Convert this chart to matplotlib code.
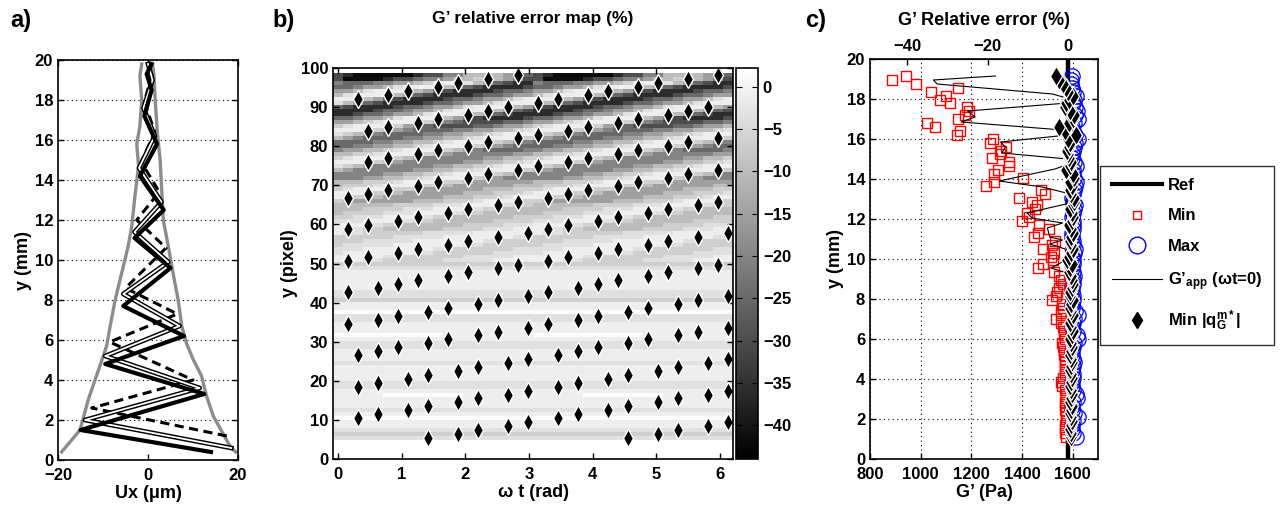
import numpy as np
import matplotlib
matplotlib.use("Agg")
import matplotlib.pyplot as plt
from matplotlib.lines import Line2D

plt.rcParams['font.family'] = ['Liberation Sans', 'DejaVu Sans']
plt.rcParams['font.weight'] = 'bold'
plt.rcParams['axes.labelweight'] = 'bold'
plt.rcParams['font.size'] = 12
plt.rcParams['mathtext.fontset'] = 'custom'
plt.rcParams['mathtext.rm'] = 'Liberation Sans:bold'
plt.rcParams['mathtext.bf'] = 'Liberation Sans:bold'
plt.rcParams['mathtext.it'] = 'Liberation Sans:bold'

# ---------------- panel a : displacement profiles ----------------
ENV_L_X = [-19.2, -15.1, -13.3, -10.7, -9.2, -8.4, -7.3, -5.9, -4.4, -3.6, -2.9, -2.1, -2.5, -1.8, -1.4, -1.8, -1.4]
ENV_L_Y = [0.4, 1.5, 3.0, 4.7, 5.7, 6.7, 8.0, 9.3, 10.7, 11.7, 13.2, 14.7, 15.8, 16.7, 18.0, 19.2, 19.8]
ENV_R_X = [19.5, 18.2, 14.5, 13.0, 11.9, 10.1, 8.6, 7.5, 6.7, 5.6, 4.5, 3.4, 3.0, 2.7, 2.1, 1.6, 1.3, 1.0]
ENV_R_Y = [0.4, 0.7, 2.2, 3.2, 4.2, 5.0, 5.8, 6.7, 8.0, 9.3, 10.7, 12.0, 13.7, 15.0, 16.3, 18.0, 19.3, 19.8]

THICK_X = [14.0, -15.0, 12.5, -9.5, 8.0, -5.5, 5.0, -3.0, 3.5, -1.8, 2.0, -0.8, 0.8, -0.3, 0.8]
THICK_Y = [0.4, 1.5, 3.3, 4.8, 6.2, 7.7, 9.6, 11.1, 12.5, 14.2, 15.8, 17.2, 18.5, 19.3, 19.8]
OUTL_X = [18.5, -14.0, 11.5, -9.5, 7.0, -5.5, 4.5, -3.0, 3.0, -2.0, 1.5, -1.0, 1.0, 0.0]
OUTL_Y = [0.6, 2.0, 3.6, 5.2, 6.7, 8.3, 9.9, 11.4, 12.9, 14.6, 16.2, 17.6, 19.0, 19.8]
DASH_X = [17.5, -12.5, 10.0, -8.5, 6.5, -5.0, 4.0, -2.5, 2.5, -1.5, 1.5, -0.8, 1.0]
DASH_Y = [1.2, 2.6, 4.0, 5.9, 7.3, 8.6, 10.6, 12.0, 13.4, 14.9, 16.4, 17.9, 19.4]

# ---------------- panel b : error map (rows y=5..97, bottom first) ----------------
# one char per cell, looked up in LEVELS (percent)
LEVELS = {'w': 1.5, '0': -1.0, '1': -3.5, '2': -6.5, '3': -10.0, '4': -15.0,
          '5': -20.0, '6': -25.0, '7': -30.0, '8': -36.0, '9': -42.0}
ERR_ROWS = [
    "11111111111111111111" "11111111111111111111",
    "22222222222222222222" "22222222222222222222",
    "11111111111111111111" "11111111111111111111",
    "00000000000000000000" "00000000000000000000",
    "00000000000000000000" "00000000000000000000",
    "wwwwwwwwwwwwwwwwwwww" "wwwwwwwwwwwwwwwwwwww",
    "00000000000000000000" "00000000000000000000",
    "11111111111111111111" "11111111111111111111",
    "00000000000000000000" "00000000000000000000",
    "00000000000000000000" "00000000000000000000",
    "00000000000000000000" "00000000000000000000",
    "00000wwwwwwww0000000" "00000wwwwwwww0000000",
    "00000000000000000000" "00000000000000000000",
    "11111111111111111111" "11111111111111111111",
    "11111111111111111111" "11111111111111111111",
    "00000000000000000000" "00000000000000000000",
    "00000000000000000000" "00000000000000000000",
    "00000000000000000000" "00000000000000000000",
    "00000000000000000000" "00000000000000000000",
    "11111111111111111111" "11111111111111111111",
    "00000000000000000000" "00000000000000000000",
    "00000000000000000000" "00000000000000000000",
    "00000000000000000000" "00000000000000000000",
    "11111111111111111111" "11111111111111111111",
    "11111111111111111111" "11111111111111111111",
    "00000000000000000000" "00000000000000000000",
    "wwwwwwwwwww000000000" "wwwwwwwwwww000000000",
    "00000000000000000000" "00000000000000000000",
    "00000000000000000000" "00000000000000000000",
    "00000000000000000000" "00000000000000000000",
    "11111111111111111111" "11111111111111111111",
    "11111111111111111111" "11111111111111111111",
    "wwwwwwwwwwwwwwwwwwww" "wwwwwwwwwwwwwwwwwwww",
    "00000000000000000000" "00000000000000000000",
    "00000000000000000000" "00000000000000000000",
    "22222222222222222222" "22222222222222222222",
    "11111111111111111111" "11111111111111111111",
    "11111111111111111111" "11111111111111111111",
    "00000000000000000000" "00000000000000000000",
    "00000000000000000000" "00000000000000000000",
    "00000000000000000000" "00000000000000000000",
    "00000000000000000000" "00000000000000000000",
    "00000000000000000000" "00000000000000000000",
    "11111111111111111111" "11111111111111111111",
    "22222222222222222222" "22222222222222222222",
    "00011222222111110000" "00011222222111110000",
    "00000112222221111100" "00000112222221111100",
    "10000000112222221111" "10000000112222221111",
    "11100000001122222211" "11100000001122222211",
    "21111100000001122222" "21111100000001122222",
    "22211111000000011222" "22211111000000011222",
    "22222211111000000011" "22222211111000000011",
    "01122222211111000000" "01122222211111000000",
    "01122333333222211100" "01122333333222211100",
    "00011223333332222111" "00011223333332222111",
    "11100011223333332222" "11100011223333332222",
    "22111000112233333322" "22111000112233333322",
    "32222111000112233333" "32222111000112233333",
    "33322221110001122333" "33322221110001122333",
    "33333322221110001122" "33333322221110001122",
    "23444444333222100012" "23444444333222100012",
    "01223444444333222100" "01223444444333222100",
    "00012234444443332221" "00012234444443332221",
    "21000122344444433322" "21000122344444433322",
    "32221000122344444433" "32221000122344444433",
    "33322210001223444444" "33322210001223444444",
    "55544332210001234555" "55544332210001234555",
    "55555443322100012345" "55555443322100012345",
    "34555555443322100012" "34555555443322100012",
    "12345555554433221000" "12345555554433221000",
    "00012345555554433221" "00012345555554433221",
    "21000123455555544332" "21000123455555544332",
    "33221000123455555544" "33221000123455555544",
    "54433210001234566665" "54433210001234566665",
    "66554433210001234566" "66554433210001234566",
    "66665544332100012345" "66665544332100012345",
    "34566665544332100012" "34566665544332100012",
    "12345666655443321000" "12345666655443321000",
    "00012345666655443321" "00012345666655443321",
    "21000124567777665443" "21000124567777665443",
    "44321000124567777665" "44321000124567777665",
    "66544310001346788887" "66544310001346788887",
    "88766544310001346788" "88766544310001346788",
    "88887665443100013467" "88887665443100013467",
    "67888876654431000134" "67888876654431000134",
    "13467888876654431000" "13467888876654431000",
    "00134678888766544310" "00134678888766544310",
    "31000134678888766544" "31000134678888766544",
    "44310001346788887665" "44310001346788887665",
    "66544310001346788887" "66544310001346788887",
    "56665544320001346788" "56665544320001346788",
    "79999877655433233457" "79999877655433233457",
    "78999999877553333456" "78999999877553333456",
]
# column index (step pi/20) of the two min|q| markers in each row, bottom first
K_FIRST = [9, 12, 14, 17, 19, 2, 4, 7, 9, 12, 14, 17, 19, 2, 4, 7, 9, 12, 14, 17, 19,
           2, 4, 6, 9, 11, 14, 16, 19, 1, 4, 6, 9, 11, 14, 16, 19, 1, 4, 6, 8, 11, 13,
           16, 18, 1, 3, 6, 8, 11, 13, 16, 19, 1, 3, 6, 8, 11, 13, 16, 18, 1, 3, 5, 8,
           10, 13, 15, 18, None, 3, 5, 8, 10, 13, 15, 18, None, 3, 5, 8, 10, 13, 15, 17,
           None, 2, 5, 7, 10, 12, 15, 18]
K_SECOND = [29, 32, 34, 37, 39, 22, 24, 27, 29, 32, 34, 37, 39, 22, 24, 27, 29, 32, 34, 37, 39,
            22, 24, 26, 29, 31, 34, 36, 39, 21, 24, 26, 29, 31, 34, 36, 39, 21, 24, 26, 28, 31, 33,
            36, 38, 21, 23, 26, 28, 31, 33, 36, 39, 21, 23, 26, 28, 31, 33, 36, 38, 21, 23, 25, 28,
            30, 33, 35, 38, 20, 23, 25, 28, 30, 33, 35, 38, 20, 23, 25, 28, 30, 33, 35, 37,
            20, 22, 25, 27, 30, 32, 35, 38]
MAP_Y_EDGES = (4.9, 98.6)

# ---------------- panel c : G' profiles ----------------
G_REF = 1580
G_MIN = [1572, 1568, 1568, 1570, 1572, 1572, 1572, 1568, 1568, 1570, 1572, 1572, 1570, 1558, 1555,
         1560, 1568, 1570, 1568, 1570, 1570, 1565, 1565, 1562, 1559, 1568, 1565, 1565, 1560, 1552,
         1533, 1552, 1552, 1562, 1556, 1519, 1533, 1539, 1546, 1562, 1552, 1548, 1526, 1464, 1482,
         1522, 1513, 1526, 1482, 1520, 1530, 1447, 1462, 1506, 1467, 1401, 1427, 1418, 1451, 1460,
         1438, 1387, 1489, 1476, 1258, 1288, 1405, 1288, 1306, 1348, 1348, 1282, 1315, 1317, 1337,
         1275, 1286, 1144, 1154, 1055, 1024, 1148, 1174, 1189, 1183, 1117, 1075, 1100, 1040, 1148,
         982, 886, 943]
G_MAX = [1615, 1600, 1596, 1598, 1602, 1620, 1605, 1596, 1598, 1600, 1618, 1615, 1600, 1596, 1598,
         1602, 1600, 1597, 1602, 1605, 1600, 1596, 1598, 1602, 1605, 1620, 1618, 1602, 1597, 1600,
         1605, 1620, 1608, 1598, 1596, 1600, 1602, 1598, 1597, 1600, 1602, 1605, 1600, 1597, 1600,
         1602, 1598, 1605, 1608, 1602, 1600, 1598, 1597, 1600, 1602, 1600, 1597, 1602, 1605, 1610,
         1602, 1598, 1600, 1605, 1610, 1615, 1605, 1600, 1602, 1612, 1605, 1598, 1596, 1600, 1605,
         1610, 1622, 1610, 1602, 1598, 1605, 1622, 1610, 1618, 1608, 1600, 1605, 1615, 1602, 1597,
         1594, 1592, 1596]
G_QMIN = [1595, 1592, 1590, 1595, 1598, 1592, 1590, 1595, 1598, 1590, 1592, 1596, 1594, 1590, 1592,
          1598, 1595, 1590, 1593, 1597, 1595, 1590, 1594, 1598, 1592, 1590, 1596, 1600, 1594, 1590,
          1598, 1602, 1592, 1588, 1595, 1600, 1590, 1588, 1596, 1602, 1598,
          1592, 1585, 1590, 1596, 1578, 1585, 1595, 1600, 1592, 1588, 1595, 1600, 1592, 1585, 1596,
          1602, 1598, 1590, 1600, 1605, 1605, 1595, 1588, 1598, 1590, 1605, 1600, 1572, 1588, 1592,
          1585, 1580, 1578, 1585, 1590, 1580, 1612, 1568, 1548, 1585, 1600, 1605, 1590, 1570, 1575,
          1585, 1600, 1582, 1575, 1560, 1545, 1533]
ROW_MM = (1.1, 19.15)
APP_Y = [19.15, 18.95, 18.75, 18.25, 18.05, 17.8, 17.4, 17.1, 16.85, 16.45, 16.2, 15.85, 15.6,
         15.3, 15.0, 14.75, 14.5, 13.9, 13.6, 13.3, 13.0, 12.8, 12.3, 12.05, 11.8, 11.55, 11.1,
         10.95, 10.75, 10.5, 10.25, 10.0, 9.55, 9.3, 9.0, 8.5, 8.0, 7.5, 7.0, 6.5, 6.0, 5.0, 4.0,
         3.0, 2.0, 1.1]
APP_G = [1295, 1050, 1065, 1520, 1575, 1580, 1185, 1215, 1160, 1560, 1580, 1315, 1335, 1320,
         1580, 1585, 1530, 1310, 1480, 1575, 1580, 1590, 1420, 1440, 1560, 1500, 1510, 1560, 1510,
         1570, 1575, 1580, 1515, 1575, 1580, 1585, 1585, 1590, 1585, 1590, 1590, 1590, 1595, 1590,
         1590, 1590]

W, H = 1283, 514
fig = plt.figure(figsize=(W / 100, H / 100), dpi=100)
DOTS = (0, (1, 3))


def px_axes(x0, y0, x1, y1):
    return fig.add_axes([x0 / W, 1 - y1 / H, (x1 - x0) / W, (y1 - y0) / H])


def matlab_ticks(ax):
    ax.tick_params(direction='in', top=True, right=True, length=4, width=1, labelsize=12)
    ax.tick_params(axis='x', pad=6)
    for s in ax.spines.values():
        s.set_linewidth(1.2)


# panel a
axa = px_axes(58, 60, 238, 460)
axa.plot(ENV_L_X, ENV_L_Y, color='#8c8c8c', lw=2.4, zorder=2)
axa.plot(ENV_R_X, ENV_R_Y, color='#8c8c8c', lw=2.4, zorder=2)
axa.plot(DASH_X, DASH_Y, color='k', lw=2.2, ls=(0, (3, 1.8)), zorder=3)
axa.plot(OUTL_X, OUTL_Y, color='k', lw=3.4, zorder=4)
axa.plot(OUTL_X, OUTL_Y, color='white', lw=1.3, zorder=5)
axa.plot(THICK_X, THICK_Y, color='k', lw=3.0, zorder=6)
axa.set_xlim(-20, 20)
axa.set_ylim(0, 20)
axa.set_xticks([-20, 0, 20])
axa.set_xticklabels(['\u221220', '0', '20'])
axa.set_yticks(range(0, 21, 2))
axa.yaxis.grid(True, ls=DOTS, color='k', lw=0.8)
axa.set_xlabel('Ux (\u03bcm)', fontsize=13, labelpad=1)
axa.set_ylabel('y (mm)', fontsize=13, labelpad=2)
matlab_ticks(axa)

# panel b
axb = px_axes(333, 68, 733, 459)
step = np.pi / 20
err = np.array([[LEVELS[c] for c in row] for row in ERR_ROWS])
axb.imshow(err, origin='lower', aspect='auto', cmap='gray', vmin=-44, vmax=2.2,
           interpolation='nearest',
           extent=(-step / 2, 2 * np.pi - step / 2, MAP_Y_EDGES[0], MAP_Y_EDGES[1]))
edges = np.linspace(MAP_Y_EDGES[0], MAP_Y_EDGES[1], len(ERR_ROWS) + 1)
centers = (edges[:-1] + edges[1:]) / 2
pts_t, pts_y = [], []
for yc, k1, k2 in zip(centers, K_FIRST, K_SECOND):
    for k in (k1, k2):
        if k is not None:
            pts_t.append(k * step)
            pts_y.append(yc)
axb.plot(pts_t, pts_y, ls='none', marker='d', ms=9, mfc='k', mec='white', mew=1.0)
axb.set_xlim(-step / 2, 2 * np.pi - step / 2)
axb.set_ylim(0, 100)
axb.set_xticks(range(0, 7))
axb.set_yticks(range(0, 101, 10))
axb.set_xlabel('\u03c9 t (rad)', fontsize=13, labelpad=1)
axb.set_ylabel('y (pixel)', fontsize=13, labelpad=2)
matlab_ticks(axb)

cax = px_axes(736, 68, 758, 459)
cb = fig.colorbar(axb.images[0], cax=cax, ticks=range(0, -45, -5))
cb.ax.set_yticklabels(['0'] + ['\u2212%d' % v for v in range(5, 45, 5)])
cb.ax.tick_params(direction='in', length=4, labelsize=12, left=True)
cb.outline.set_linewidth(1.2)

# panel c
axc = px_axes(870, 59, 1098, 459)
rows = np.linspace(ROW_MM[0], ROW_MM[1], len(G_MIN))
axc.plot([G_REF, G_REF], [0, 20], color='k', lw=3.2, zorder=2)
axc.plot(G_MAX, np.linspace(ROW_MM[0], ROW_MM[1], len(G_MAX)), ls='none', marker='o', ms=11,
         mfc='none', mec='blue', mew=0.9, zorder=3)
axc.plot(G_MIN, rows, ls='none', marker='s', ms=7, mfc='none', mec='red', mew=1.0, zorder=4)
axc.plot(APP_G, APP_Y, color='k', lw=0.8, zorder=5)
axc.plot(G_QMIN, np.linspace(ROW_MM[0], ROW_MM[1], len(G_QMIN)), ls='none', marker='d', ms=10,
         mfc='k', mec='white', mew=0.9, zorder=6)
axc.set_xlim(800, 1700)
axc.set_ylim(0, 20)
axc.set_xticks([800, 1000, 1200, 1400, 1600])
axc.set_yticks(range(0, 21, 2))
axc.grid(True, ls=DOTS, color='k', lw=0.8)
axc.set_xlabel('G\u2019 (Pa)', fontsize=13, labelpad=1)
axc.set_ylabel('y (mm)', fontsize=13, labelpad=2)
axc.tick_params(direction='in', right=True, length=4, width=1, labelsize=12)
axc.tick_params(axis='x', pad=6)
for s in axc.spines.values():
    s.set_linewidth(1.2)
top = axc.secondary_xaxis('top', functions=(lambda g: (g / G_REF - 1) * 100,
                                            lambda e: G_REF * (1 + e / 100)))
top.set_xticks([-40, -20, 0])
top.set_xticklabels(['\u221240', '\u221220', '0'])
top.tick_params(direction='in', length=4, width=1, labelsize=12)
top.set_xlabel('G\u2019 Relative error (%)', fontsize=13, labelpad=10)

handles = [Line2D([], [], color='k', lw=3),
           Line2D([], [], ls='none', marker='s', ms=6, mfc='none', mec='red'),
           Line2D([], [], ls='none', marker='o', ms=12, mfc='none', mec='blue'),
           Line2D([], [], color='k', lw=0.8),
           Line2D([], [], ls='none', marker='d', ms=8, mfc='k', mec='k')]
labels = ['Ref', 'Min', 'Max', 'G\u2019$_{\\mathbf{app}}$ (\u03c9t=0)', 'Min |$\\mathbf{q_G^{m*}}$|']
leg = fig.legend(handles, labels, loc='upper left', bbox_to_anchor=(1100 / W, 1 - 166 / H),
                 frameon=True, fancybox=False, edgecolor='k', fontsize=12, labelspacing=0.95,
                 handlelength=3.0, borderpad=0.7, handletextpad=0.4, borderaxespad=0)
leg.get_frame().set_linewidth(1.0)

fig.text(10 / W, 1 - 20 / H, 'a)', fontsize=17, va='center', ha='left')
fig.text(272 / W, 1 - 20 / H, 'b)', fontsize=17, va='center', ha='left')
fig.text(805 / W, 1 - 20 / H, 'c)', fontsize=17, va='center', ha='left')
fig.text(533 / W, 1 - 19 / H, 'G\u2019 relative error map (%)', fontsize=12.5, ha='center', va='center')

fig.savefig('out.png', dpi=100)
